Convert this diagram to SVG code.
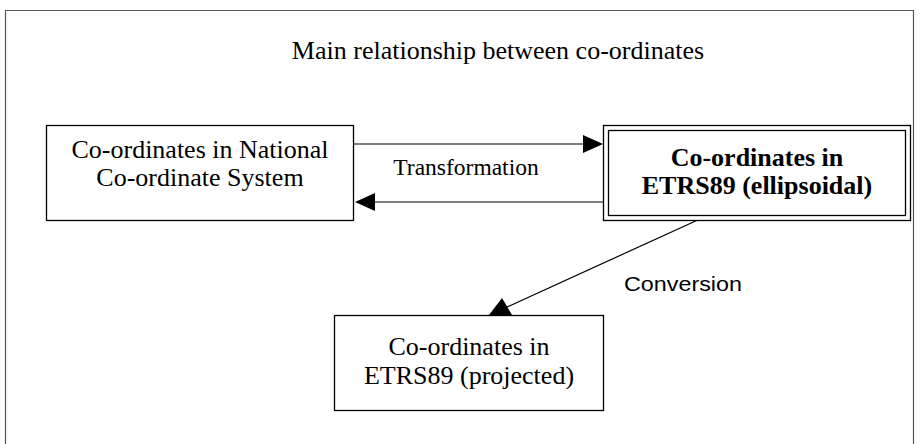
<svg xmlns="http://www.w3.org/2000/svg" width="920" height="444" viewBox="0 0 920 444">
<style>
.box{fill:#fff;stroke:#000;stroke-width:1.3}
.ser{font-family:"Liberation Serif","Times New Roman",serif;fill:#000;text-anchor:middle}
.sans{font-family:"Liberation Sans",Arial,sans-serif;fill:#000}
.ln{stroke:#000;stroke-width:1.2;fill:none}
</style>
<rect x="0" y="0" width="920" height="444" fill="#fff"/>
<g id="frame">
<path d="M5.5,450 V10.5 H913.5 V450" fill="none" stroke="#555" stroke-width="1.2"/>
</g>
<g id="title">
<text class="ser" x="498" y="59" font-size="26">Main relationship between co-ordinates</text>
</g>
<g id="connectors">
<line class="ln" x1="354" y1="144" x2="584" y2="144"/>
<polygon points="603,144 583,135 583,153" fill="#000"/>
<line class="ln" x1="603" y1="202" x2="374" y2="202"/>
<polygon points="355,202 375,193 375,211" fill="#000"/>
<text class="ser" x="466" y="175" font-size="23.5">Transformation</text>
<line class="ln" x1="700" y1="219" x2="507" y2="307"/>
<polygon points="502,298 489,315 512,315" fill="#000"/>
<text class="sans" x="624" y="291" font-size="20" textLength="118" lengthAdjust="spacingAndGlyphs">Conversion</text>
</g>
<g id="node-national">
<rect class="box" x="46.5" y="125.5" width="307" height="95"/>
<text class="ser" x="200" y="158" font-size="26">Co-ordinates in National</text>
<text class="ser" x="200" y="186" font-size="26">Co-ordinate System</text>
</g>
<g id="node-ellipsoidal">
<rect class="box" x="603.5" y="125.5" width="307" height="95"/>
<rect class="box" x="608.5" y="130.5" width="297" height="85"/>
<text class="ser" x="757" y="166" font-size="26" font-weight="bold">Co-ordinates in</text>
<text class="ser" x="757" y="194" font-size="26" font-weight="bold">ETRS89 (ellipsoidal)</text>
</g>
<g id="node-projected">
<rect class="box" x="334.5" y="315.5" width="269" height="95"/>
<text class="ser" x="469" y="355" font-size="26">Co-ordinates in</text>
<text class="ser" x="469" y="384" font-size="26">ETRS89 (projected)</text>
</g>
</svg>
